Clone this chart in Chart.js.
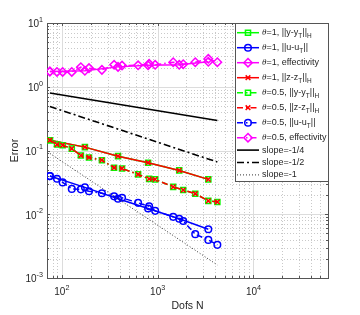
<!DOCTYPE html>
<html><head><meta charset="utf-8">
<script src="https://cdn.jsdelivr.net/npm/chart.js@4.4.1/dist/chart.umd.min.js"></script>
<style>html,body{margin:0;padding:0;background:#fff}</style>
</head><body>
<canvas id="chart" width="360" height="315"></canvas>
<script>
// dofs for theta=1 and theta=0.5 refinements
const dofsTh1=[75,174,386,795,1680,3380];
const dofsTh05=[75,89,102,127,158,192,262,351,425,625,815,942,1453,1849,2470,3380,4200];
// theta=1 errors
const yErr1=[0.145,0.113,0.0815,0.0643,0.0487,0.0352];
const uErr1=[0.0397,0.0264,0.0175,0.0123,0.0085,0.00583];
const eff1=[1.73,1.78,2.05,2.17,2.21,2.46];
const zErr1=[0.145,0.113,0.0815,0.0643,0.0487,0.0352];
// theta=0.5 errors
const yErr05=[0.145,0.124,0.121,0.107,0.0835,0.0778,0.0705,0.0537,0.0523,0.0422,0.0359,0.0352,0.0269,0.024,0.021,0.0162,0.0156];
const zErr05=[0.145,0.124,0.121,0.107,0.0835,0.0778,0.0705,0.0537,0.0523,0.0422,0.0359,0.0352,0.0269,0.024,0.021,0.0162,0.0156];
const uErr05=[0.0397,0.0361,0.0316,0.025,0.0246,0.0229,0.0213,0.0191,0.0181,0.0151,0.0133,0.0113,0.0091,0.00785,0.00487,0.00396,0.00331];
const eff05=[1.73,1.71,1.71,1.71,2.03,1.96,1.84,2.21,2.15,2.17,2.29,2.21,2.43,2.26,2.43,2.74,2.43];
// reference slopes (end points)
const slopeN=[75,4200];
const slopeQuarter=[0.8,0.295];
const slopeHalf=[0.49,0.066];
const slopeOne=[0.09,0.0016];
const xTickExp=[2,3,4];
const yTickExp=[-3,-2,-1,0,1];

const ink='#262626';
const SANS='"Liberation Sans", Arial, sans-serif';
const dashDot=[6,3,1.5,3];

function ds(label,xs,ys,color,style,r,dash,lw){
  return {label,data:xs.map((v,i)=>({x:v,y:ys[i]})),borderColor:color,backgroundColor:color,
    borderWidth:lw||1.5,borderDash:dash||[],pointStyle:style,pointRadius:r,pointHoverRadius:r,
    pointBorderWidth:1.5,pointBorderColor:color,pointBackgroundColor:'rgba(0,0,0,0)',tension:0,fill:false};
}
const sets=[
  ds('θ=1, ||y-y_{T}||_{H}',dofsTh1,yErr1,'#00ff00','rect',3.6),
  ds('θ=1, ||u-u_{T}||',dofsTh1,uErr1,'#0000ff','circle',3.3),
  ds('θ=1, effectivity',dofsTh1,eff1,'#ff00ff','rectRot',4.2),
  ds('θ=1, ||z-z_{T}||_{H}',dofsTh1,zErr1,'#ff0000','crossRot',3.3),
  ds('θ=0.5, ||y-y_{T}||_{H}',dofsTh05,yErr05,'#00ff00','rect',3.6,dashDot),
  ds('θ=0.5, ||z-z_{T}||_{H}',dofsTh05,zErr05,'#ff0000','crossRot',3.3,dashDot),
  ds('θ=0.5, ||u-u_{T}||',dofsTh05,uErr05,'#0000ff','circle',3.3,dashDot),
  ds('θ=0.5, effectivity',dofsTh05,eff05,'#ff00ff','rectRot',4.2,dashDot),
  ds('slope=-1/4',slopeN,slopeQuarter,'#000000','line',0,[],1.6),
  ds('slope=-1/2',slopeN,slopeHalf,'#000000','line',0,[7,3,2,3],1.6),
  ds('slope=-1',slopeN,slopeOne,'#333333','line',0,[1,2],1)
];
sets.forEach((d,i)=>d.order=sets.length-i);

// text with _{sub} / ^{sup} and italic theta
function rich(ctx,s,x,y,size,draw){
  let i=0;
  while(i<s.length){
    let txt,dy=0,font=size+'px '+SANS;
    if(s.startsWith('_{',i)||s.startsWith('^{',i)){
      const j=s.indexOf('}',i);txt=s.slice(i+2,j);
      dy=s[i]==='_'?size*0.38:-size*0.45;font=(size*0.72)+'px '+SANS;i=j+1;
    }else if(s[i]==='θ'){txt='θ';font='italic '+size+'px "Liberation Serif", serif';i++;}
    else{let j=i;while(j<s.length&&s[j]!=='_'&&s[j]!=='^'&&s[j]!=='θ')j++;txt=s.slice(i,j);i=j;}
    ctx.font=font;
    if(draw!==false)ctx.fillText(txt,x,y+dy);
    x+=ctx.measureText(txt).width;
  }
  return x;
}

function marker(ctx,style,x,y,r){
  ctx.beginPath();
  if(style==='rect'){const s=r*Math.SQRT1_2;ctx.rect(x-s,y-s,2*s,2*s);}
  else if(style==='circle'){ctx.arc(x,y,r,0,Math.PI*2);}
  else if(style==='rectRot'){ctx.moveTo(x,y-r);ctx.lineTo(x+r,y);ctx.lineTo(x,y+r);ctx.lineTo(x-r,y);ctx.closePath();}
  else if(style==='crossRot'){const s=r*Math.SQRT1_2;ctx.moveTo(x-s,y-s);ctx.lineTo(x+s,y+s);ctx.moveTo(x-s,y+s);ctx.lineTo(x+s,y-s);}
  ctx.stroke();
}

const axesPlugin={id:'axes',beforeDatasetsDraw(c){
  const {ctx,chartArea:a,scales:{x,y}}=c;
  ctx.save();
  const xv=[],yv=[];
  for(let e=1;e<=4;e++)for(let m=1;m<10;m++){const v=m*Math.pow(10,e);if(v>=x.min&&v<=x.max)xv.push([x.getPixelForValue(v),m===1]);}
  for(let e=-3;e<=0;e++)for(let m=1;m<10;m++){const v=m*Math.pow(10,e);if(v>=y.min&&v<=y.max)yv.push([y.getPixelForValue(v),m===1]);}
  // minor grid
  ctx.lineWidth=1;ctx.strokeStyle='#c9c9c9';ctx.setLineDash([1,2]);
  xv.filter(t=>!t[1]).forEach(([p])=>{ctx.beginPath();ctx.moveTo(Math.round(p)+.5,a.top);ctx.lineTo(Math.round(p)+.5,a.bottom);ctx.stroke();});
  yv.filter(t=>!t[1]).forEach(([p])=>{ctx.beginPath();ctx.moveTo(a.left,Math.round(p)+.5);ctx.lineTo(a.right,Math.round(p)+.5);ctx.stroke();});
  // major grid
  ctx.setLineDash([]);ctx.strokeStyle='#dcdcdc';
  xv.filter(t=>t[1]).forEach(([p])=>{ctx.beginPath();ctx.moveTo(Math.round(p)+.5,a.top);ctx.lineTo(Math.round(p)+.5,a.bottom);ctx.stroke();});
  yv.filter(t=>t[1]).forEach(([p])=>{ctx.beginPath();ctx.moveTo(a.left,Math.round(p)+.5);ctx.lineTo(a.right,Math.round(p)+.5);ctx.stroke();});
  // box and inward ticks
  ctx.strokeStyle='#555';
  ctx.strokeRect(Math.round(a.left)+.5,Math.round(a.top)+.5,Math.round(a.right-a.left),Math.round(a.bottom-a.top));
  ctx.beginPath();
  xv.forEach(([p,maj])=>{const L=maj?3:2,px=Math.round(p)+.5;ctx.moveTo(px,a.bottom);ctx.lineTo(px,a.bottom-L);ctx.moveTo(px,a.top);ctx.lineTo(px,a.top+L);});
  yv.forEach(([p,maj])=>{const L=maj?3:2,py=Math.round(p)+.5;ctx.moveTo(a.left,py);ctx.lineTo(a.left+L,py);ctx.moveTo(a.right,py);ctx.lineTo(a.right-L,py);});
  ctx.stroke();
  // tick labels
  ctx.fillStyle=ink;ctx.textBaseline='middle';ctx.textAlign='left';
  xTickExp.forEach(e=>{const s='10^{'+e+'}',w=rich(ctx,s,0,0,10,false);rich(ctx,s,x.getPixelForValue(Math.pow(10,e))-w/2,a.bottom+14.5,10);});
  yTickExp.forEach(e=>{const s='10^{'+e+'}',w=rich(ctx,s,0,0,10,false);rich(ctx,s,a.left-4-w,y.getPixelForValue(Math.pow(10,e))+1.5,10);});
  // axis titles
  ctx.font='10.5px '+SANS;ctx.textAlign='center';
  ctx.fillText('Dofs N',(a.left+a.right)/2,a.bottom+28.5);
  ctx.translate(15,(a.top+a.bottom)/2);ctx.rotate(-Math.PI/2);ctx.fillText('Error',0,0);
  ctx.restore();
}};

const legendPlugin={id:'mlegend',afterDraw(c){
  const ctx=c.ctx,a=c.chartArea;
  const bw=93,bh=158,bx=Math.round(a.right)-bw,by=Math.round(a.top);
  ctx.save();
  ctx.fillStyle='#fff';ctx.fillRect(bx,by,bw,bh);
  ctx.strokeStyle='#555';ctx.lineWidth=1;ctx.strokeRect(bx+.5,by+.5,bw,bh);
  let cy=by+9.7;
  c.data.datasets.forEach((d,i)=>{
    ctx.strokeStyle=d.borderColor;ctx.lineWidth=d.borderWidth;ctx.setLineDash(d.borderDash);
    ctx.beginPath();ctx.moveTo(bx+2,cy);ctx.lineTo(bx+24,cy);ctx.stroke();
    ctx.setLineDash([]);ctx.lineWidth=1.5;
    if(d.pointRadius>0)marker(ctx,d.pointStyle,bx+13,cy,d.pointRadius);
    ctx.fillStyle=ink;ctx.textBaseline='middle';ctx.textAlign='left';
    rich(ctx,d.label,bx+27,cy,9);
    cy+=i<7?15:12.4;
  });
  ctx.restore();
}};

new Chart(document.getElementById('chart').getContext('2d'),{
  type:'line',
  data:{datasets:sets},
  options:{responsive:false,animation:false,devicePixelRatio:1,
    layout:{padding:{left:47,right:32,top:23,bottom:37}},
    plugins:{legend:{display:false},tooltip:{enabled:false}},
    scales:{
      x:{type:'logarithmic',min:70,max:6e4,display:false},
      y:{type:'logarithmic',min:1e-3,max:10,display:false}
    }},
  plugins:[axesPlugin,legendPlugin]
});
</script>
</body></html>
